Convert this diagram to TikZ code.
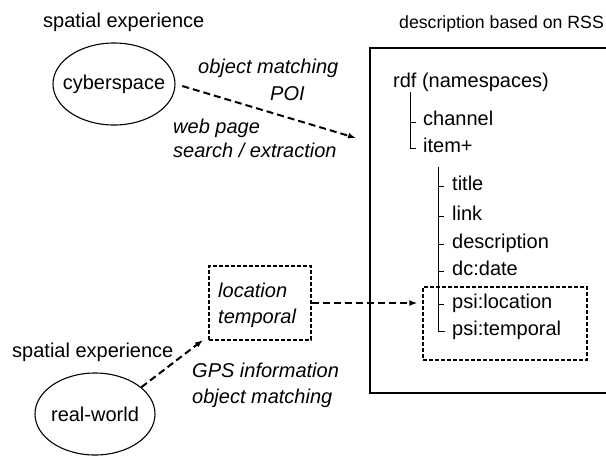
\documentclass[tikz,border=0pt]{standalone}
\usepackage{fontspec}
\setmainfont{Liberation Sans}
\usetikzlibrary{arrows.meta,shapes.geometric}
\begin{document}
\begin{tikzpicture}[x=1pt,y=-1pt,
  lbl/.style={anchor=west,inner sep=0pt,font=\fontsize{20}{24}\selectfont,text height=14pt,text depth=4pt},
  ilbl/.style={lbl,font=\fontsize{20}{24}\selectfont\itshape},
  oval/.style={draw,ellipse,line width=1.1pt,inner sep=0pt,font=\fontsize{20}{24}\selectfont},
  darrow/.style={line width=2pt,dash pattern=on 7pt off 4pt,-{Latex[length=8pt,width=6pt]}},
  dbox/.style={draw,line width=1.3pt,dash pattern=on 4pt off 2pt,inner sep=0pt},
  treeline/.style={line width=1pt}]
\useasboundingbox (0,0) rectangle (606,459);

% left side
\node[lbl] (sp1) at (43,22) {spatial experience};
\node[oval,minimum width=122pt,minimum height=82pt] (cyber) at (114,84) {\makebox[0pt]{cyberspace}};
\node[lbl] (sp2) at (12,352) {spatial experience};
\node[oval,minimum width=120pt,minimum height=82pt] (real) at (95,414) {\makebox[0pt]{\raisebox{-4pt}{real-world}}};

% cyber arrow labels
\node[ilbl] (om1) at (198,68) {object matching};
\node[ilbl] (poi) at (270,95) {POI};
\node[ilbl] (web) at (173,128) {web page};
\node[ilbl] (sea) at (173,152) {search / extraction};
\coordinate (ctip) at (356,138);
\draw[darrow,shorten <=7pt] (cyber.east) -- (ctip);

% location box
\node[dbox,minimum width=102pt,minimum height=74pt] (loc) at (260,303) {};
\node[ilbl] (locl) at (218,292) {location};
\node[ilbl] (temp) at (218,318) {temporal};
\coordinate (rtip) at (203,340);
\draw[darrow] (real.30) -- (rtip);
\node[ilbl] (gps) at (192,372) {GPS information};
\node[ilbl] (om2) at (192,398) {object matching};

% RSS description
\node[lbl,font=\fontsize{17.7}{21}\selectfont] (rsst) at (399,23) {description based on RSS};
\draw[line width=1.5pt] (612,48) -| (370,393) -- (612,393);
\node[lbl] (rdf) at (393,82) {rdf (namespaces)};
\node[lbl] (chan) at (423,120) {channel};
\node[lbl] (item) at (423,147) {item+};
\draw[treeline] (410,92) -- (410,148) -- (416,148);
\draw[treeline] (410,122) -- (416,122);
\node[lbl] (title) at (452,185) {title};
\node[lbl] (link) at (452,215) {link};
\node[lbl] (desc) at (452,243) {description};
\node[lbl] (date) at (452,270) {dc:date};
\node[lbl] (psil) at (452,303) {psi:location};
\node[lbl] (psit) at (452,330) {psi:temporal};
\draw[treeline] (438,167) -- (438,331) -- (445,331);
\foreach \yy in {186,216,244,271,304} \draw[treeline] (438,\yy) -- (444,\yy);
\node[dbox,minimum width=164pt,minimum height=73pt] (psibox) at (505,323.5) {};
\draw[darrow,shorten >=5pt] (loc.east) -- (loc.east -| psibox.west);
\end{tikzpicture}
\end{document}
